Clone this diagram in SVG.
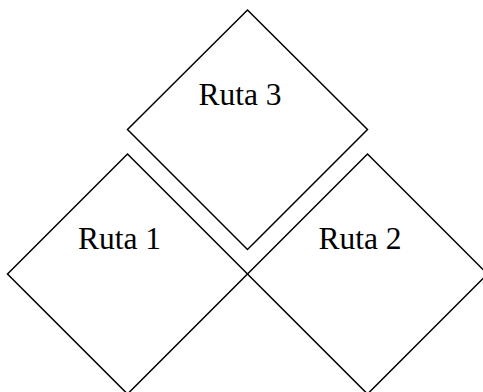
<svg xmlns="http://www.w3.org/2000/svg" width="483" height="392" viewBox="0 0 483 392">
<style>
.d{fill:none;stroke:#000;stroke-width:1.5}
.t{font-family:"Liberation Serif","Times New Roman",serif;font-size:31.5px;fill:#000;text-anchor:middle}
</style>
<rect width="483" height="392" fill="#fff"/>
<g id="ruta3">
<polygon class="d" points="247.5,10 367.5,129.5 247.5,249.5 127.5,129.5"/>
<text class="t" x="240" y="105">Ruta 3</text>
</g>
<g id="ruta1">
<polygon class="d" points="127.5,154 247.5,274 127.5,394 7.5,274"/>
<text class="t" x="119.5" y="248.5">Ruta 1</text>
</g>
<g id="ruta2">
<polygon class="d" points="367.5,154 487.5,274 367.5,394 247.5,274"/>
<text class="t" x="360" y="248.5">Ruta 2</text>
</g>
<g id="connectors"/>
</svg>
